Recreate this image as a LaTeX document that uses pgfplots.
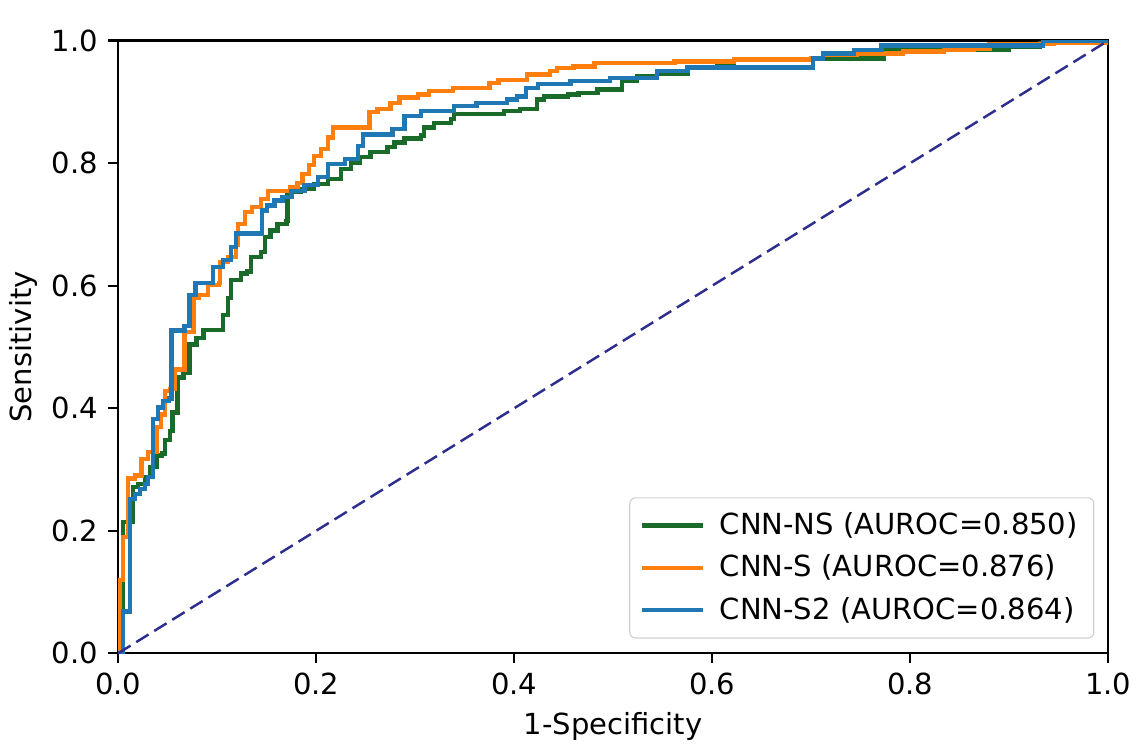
\documentclass[border=0pt]{standalone}
\usepackage{fontspec}
\setmainfont{DejaVu Sans}
\usepackage{pgfplots}
\pgfplotsset{compat=1.18}
\definecolor{cgreen}{HTML}{1A6B2A}
\definecolor{corange}{HTML}{FF7F0E}
\definecolor{cblue}{HTML}{1F77B4}
\definecolor{cnavy}{HTML}{2E2E8E}
\begin{document}
\begin{tikzpicture}
\begin{axis}[
  scale only axis, width=341pt, height=211pt,
  xmin=0, xmax=1, ymin=0, ymax=1,
  xtick={0,0.2,0.4,0.6,0.8,1}, ytick={0,0.2,0.4,0.6,0.8,1},
  /pgf/number format/fixed, /pgf/number format/fixed zerofill,
  /pgf/number format/precision=1, /pgf/number format/assume math mode=true,
  tick align=outside, tick pos=left,
  major tick length=3.4pt,
  axis line style={line width=0.8pt},
  every tick/.style={black, line width=0.8pt},
  font=\fontsize{10}{12}\selectfont,
  xlabel={1-Specificity}, ylabel={Sensitivity},
  xlabel style={yshift=1pt}, ylabel style={yshift=-2pt},
  legend style={at={(0.986,0.024)}, anchor=south east, draw=black!18,
    rounded corners=2pt, font=\fontsize{10}{12}\selectfont,
    row sep=1.5pt, inner xsep=3.5pt, inner ysep=3pt},
  legend cell align=left,
  legend image code/.code={\draw[#1] (0pt,0pt) -- (21pt,0pt); \path (24pt,0pt);},
]
\addplot[cgreen, line width=1.5pt, const plot] coordinates {
(0,0) (0.002,0.04) (0.005,0.114) (0.005,0.214) (0.015,0.271) (0.020,0.276)
(0.027,0.288) (0.032,0.304) (0.039,0.323) (0.044,0.326) (0.047,0.348)
(0.052,0.363) (0.055,0.393) (0.060,0.450) (0.066,0.458) (0.072,0.504)
(0.079,0.515) (0.086,0.528) (0.106,0.552) (0.111,0.580) (0.114,0.609)
(0.124,0.620) (0.130,0.623) (0.134,0.647) (0.144,0.655) (0.148,0.680)
(0.154,0.690) (0.161,0.701) (0.170,0.706) (0.171,0.753) (0.178,0.753)
(0.184,0.758) (0.198,0.766) (0.212,0.774) (0.225,0.790) (0.235,0.800)
(0.244,0.810) (0.255,0.818) (0.272,0.826) (0.279,0.834) (0.289,0.840)
(0.306,0.845) (0.309,0.858) (0.319,0.866) (0.336,0.872) (0.339,0.880)
(0.390,0.885) (0.406,0.888) (0.423,0.904) (0.430,0.909) (0.454,0.912)
(0.465,0.915) (0.484,0.920) (0.509,0.934) (0.524,0.942) (0.544,0.946)
(0.575,0.956) (0.605,0.958) (0.622,0.969) (0.700,0.971) (0.773,0.985)
(0.900,0.990) (0.931,0.996) (1,1)
};
\addlegendentry{CNN-NS (AUROC=0.850)}
\addplot[corange, line width=1.5pt, const plot] coordinates {
(0,0) (0.002,0.12) (0.005,0.19) (0.010,0.285) (0.017,0.290) (0.0235,0.317)
(0.030,0.328) (0.039,0.369) (0.043,0.390) (0.047,0.428) (0.052,0.431)
(0.057,0.463) (0.067,0.524) (0.076,0.580) (0.081,0.585) (0.091,0.601)
(0.102,0.604) (0.103,0.639) (0.111,0.647) (0.119,0.666) (0.121,0.701)
(0.128,0.720) (0.135,0.728) (0.144,0.742) (0.151,0.755) (0.174,0.760)
(0.181,0.768) (0.186,0.782) (0.193,0.797) (0.198,0.812) (0.205,0.823)
(0.212,0.842) (0.217,0.858) (0.254,0.883) (0.262,0.888) (0.275,0.898)
(0.284,0.907) (0.303,0.912) (0.314,0.918) (0.338,0.923) (0.375,0.931)
(0.384,0.936) (0.413,0.945) (0.436,0.950) (0.443,0.955) (0.460,0.958)
(0.481,0.964) (0.562,0.966) (0.622,0.969) (0.700,0.972) (0.712,0.977)
(0.746,0.979) (0.793,0.982) (0.834,0.985) (0.864,0.987) (0.880,0.994)
(0.945,0.996) (1,1)
};
\addlegendentry{CNN-S (AUROC=0.876)}
\addplot[cblue, line width=1.5pt, const plot] coordinates {
(0,0) (0.005,0.068) (0.012,0.252) (0.017,0.260) (0.022,0.268) (0.027,0.276)
(0.030,0.288) (0.035,0.382) (0.040,0.401) (0.045,0.412) (0.051,0.416)
(0.054,0.527) (0.067,0.534) (0.072,0.585) (0.078,0.604) (0.096,0.631)
(0.106,0.642) (0.114,0.663) (0.119,0.685) (0.145,0.723) (0.150,0.731)
(0.158,0.739) (0.166,0.745) (0.175,0.755) (0.188,0.764) (0.202,0.777)
(0.212,0.799) (0.229,0.807) (0.242,0.828) (0.247,0.847) (0.277,0.856)
(0.289,0.877) (0.306,0.885) (0.339,0.893) (0.362,0.898) (0.393,0.904)
(0.403,0.909) (0.412,0.923) (0.424,0.929) (0.457,0.934) (0.497,0.939)
(0.544,0.950) (0.575,0.956) (0.702,0.971) (0.712,0.979) (0.743,0.985)
(0.771,0.992) (0.934,0.999) (1,1)
};
\addlegendentry{CNN-S2 (AUROC=0.864)}
\addplot[cnavy, line width=0.85pt, dash pattern=on 5pt off 2.3pt, forget plot] coordinates {(0,0) (1,1)};
\end{axis}
\path ([yshift=14pt]current axis.north west);
\path ([yshift=-30.5pt]current axis.south west);
\end{tikzpicture}
\end{document}
